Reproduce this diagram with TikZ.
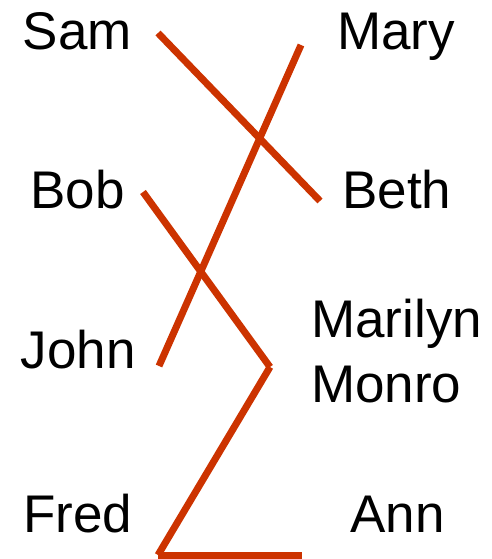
\documentclass[tikz,border=0pt]{standalone}
\usepackage{fontspec}
\setmainfont{Liberation Sans}
\definecolor{linkred}{RGB}{204,51,0}
\begin{document}
\begin{tikzpicture}[x=1pt,y=-1pt,
  person/.style={anchor=base west,inner sep=0pt,font=\fontsize{53}{65}\selectfont},
  link/.style={draw=linkred,line width=7pt}]
\useasboundingbox (0,0) rectangle (491,559);
\node[person] (sam) at (22.5,50) {Sam};
\node[person] (mary) at (337,50) {Mary};
\node[person] (bob) at (30,208) {Bob};
\node[person] (beth) at (342,208) {Beth};
\node[person] (john) at (20.5,368) {John};
\node[person,align=left] (marilyn) at (311,402) {Marilyn\\Monro};
\node[person] (fred) at (23,532) {Fred};
\node[person] (ann) at (350,532) {Ann};
\coordinate (s1) at (158,33);
\coordinate (s2) at (320,201);
\coordinate (m1) at (301,45);
\coordinate (m2) at (159,366);
\coordinate (b1) at (143,192);
\coordinate (b2) at (270,367);
\coordinate (a1) at (158,555);
\coordinate (a2) at (302,555);
\draw[link] (s1) -- (s2);
\draw[link] (m1) -- (m2);
\draw[link] (b1) -- (b2);
\draw[link] (b2) -- (a1);
\draw[link] (a1) -- (a2);
\end{tikzpicture}
\end{document}
